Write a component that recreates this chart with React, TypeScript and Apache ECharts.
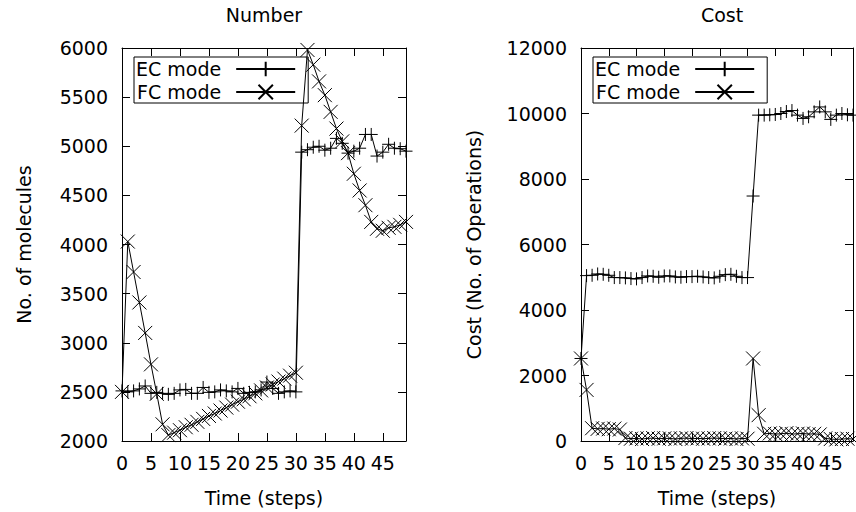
import React, { useEffect, useRef } from "react";
import * as echarts from "echarts";

const steps = [
  0, 1, 2, 3, 4, 5, 6, 7, 8, 9, 10, 11, 12, 13, 14, 15, 16, 17, 18, 19, 20, 21, 22, 23, 24,
  25, 26, 27, 28, 29, 30, 31, 32, 33, 34, 35, 36, 37, 38, 39, 40, 41, 42, 43, 44, 45, 46, 47, 48, 49,
];

const numberEC = [
  2510, 2500, 2510, 2530, 2560, 2485, 2495, 2485, 2475, 2485, 2520, 2525, 2485, 2485, 2545, 2495,
  2500, 2520, 2510, 2500, 2535, 2485, 2495, 2500, 2520, 2600, 2535, 2485, 2500, 2510, 2500,
  4940, 4965, 4990, 5000, 4960, 4980, 5080, 5030, 4930, 4950, 4980, 5120, 5120, 4900, 4940, 5020,
  4980, 4975, 4950,
];

const numberFC = [
  2500, 4030, 3720, 3410, 3100, 2780, 2480, 2170,
  2060, 2085, 2110, 2140, 2165, 2195, 2225, 2255, 2280, 2310, 2340, 2370, 2400, 2425, 2455, 2485,
  2515, 2545, 2575, 2605, 2635, 2665, 2695,
  5210, 5980, 5830, 5660, 5520, 5350, 5180, 5050, 4930, 4720, 4550, 4400, 4230, 4160, 4140, 4170,
  4180, 4200, 4230,
];

const costEC = [
  2520, 5050, 5060, 5100, 5090, 5060, 4990, 4990, 4980, 4960, 4950, 4990, 5040, 5030, 5000, 5040,
  5040, 5010, 5000, 5020, 5020, 5030, 5010, 4990, 4980, 5030, 5080, 5090, 5030, 4990, 4990,
  7480, 9950, 9950, 9960, 9970, 10000, 10060, 10090, 9950, 9850, 9900, 10050, 10200, 10050, 9820,
  9950, 10000, 9960, 9950,
];

const costFC = [
  2520, 1560, 390, 370, 380, 360, 380, 350,
  90, 70, 80, 60, 80, 90, 70, 80, 80, 60, 80, 90, 70, 80, 70, 80, 90, 80, 70, 80, 60, 80, 70,
  2520, 790, 220, 230, 210, 220, 240, 210, 220, 230, 210, 220, 200,
  80, 60, 50, 60, 70, 60,
];

const seriesNames = ["EC mode", "FC mode"];
const titles = ["Number", "Cost"];
const xName = "Time (steps)";
const yNames = ["No. of molecules", "Cost (No. of Operations)"];

const FONT = "DejaVu Sans";
const PLUS = "path://M0,5L10,5M5,0L5,10";
const CROSS = "path://M0,0L10,10M0,10L10,0";

function makeX(gridIndex: number, position: "bottom" | "top") {
  const primary = position === "bottom";
  return {
    type: "value",
    gridIndex,
    position,
    min: 0,
    max: 49,
    interval: 5,
    axisLine: { show: true, onZero: false, lineStyle: { color: "#000", width: 1 } },
    axisTick: { show: true, inside: true, length: 8, lineStyle: { color: "#000", width: 1 } },
    axisLabel: {
      show: primary,
      showMaxLabel: false,
      fontSize: 19,
      fontFamily: FONT,
      color: "#000",
      margin: 12,
      formatter: (v: number) => String(v),
    },
    splitLine: { show: false },
    name: primary ? xName : "",
    nameLocation: "middle",
    nameGap: 47,
    nameTextStyle: { fontSize: 19, fontFamily: FONT, color: "#000" },
  };
}

function makeY(
  gridIndex: number,
  position: "left" | "right",
  min: number,
  max: number,
  interval: number,
  name: string,
  gap: number
) {
  const primary = position === "left";
  return {
    type: "value",
    gridIndex,
    position,
    min,
    max,
    interval,
    axisLine: { show: true, onZero: false, lineStyle: { color: "#000", width: 1 } },
    axisTick: { show: true, inside: true, length: 8, lineStyle: { color: "#000", width: 1 } },
    axisLabel: {
      show: primary,
      fontSize: 19,
      fontFamily: FONT,
      color: "#000",
      margin: 14,
      formatter: (v: number) => String(v),
    },
    splitLine: { show: false },
    name: primary ? name : "",
    nameLocation: "middle",
    nameGap: gap,
    nameTextStyle: { fontSize: 19, fontFamily: FONT, color: "#000" },
  };
}

function makeSeries(name: string, xi: number, yi: number, values: number[], symbol: string, size: number) {
  return {
    type: "line",
    name,
    xAxisIndex: xi,
    yAxisIndex: yi,
    data: steps.map((t, i) => [t, values[i]]),
    symbol,
    symbolSize: size,
    showSymbol: true,
    lineStyle: { color: "#000", width: 1 },
    itemStyle: { color: "#000", borderColor: "#000", borderWidth: 1 },
    emphasis: { disabled: true },
    clip: false,
  };
}

function makeLegend(left: number) {
  return {
    left,
    top: 57,
    orient: "vertical",
    align: "right",
    itemWidth: 59,
    itemHeight: 18,
    itemGap: 3,
    padding: [2, 12, 1, 2],
    borderColor: "#000",
    borderWidth: 1,
    borderRadius: 0,
    backgroundColor: "transparent",
    selectedMode: false,
    textStyle: {
      fontSize: 19,
      fontFamily: FONT,
      color: "#000",
      lineHeight: 20,
      padding: [0, 10, 0, 0],
    },
    data: seriesNames,
  };
}

export default function App() {
  const ref = useRef<HTMLDivElement>(null);
  useEffect(() => {
    if (!ref.current) return;
    const chart = echarts.init(ref.current, undefined, { renderer: "svg" });
    chart.setOption({
      animation: false,
      backgroundColor: "#fff",
      grid: [
        { left: 122, top: 48, width: 284, height: 393 },
        { left: 581, top: 48, width: 272, height: 393 },
      ],
      xAxis: [makeX(0, "bottom"), makeX(0, "top"), makeX(1, "bottom"), makeX(1, "top")],
      yAxis: [
        makeY(0, "left", 2000, 6000, 500, yNames[0], 89),
        makeY(0, "right", 2000, 6000, 500, "", 0),
        makeY(1, "left", 0, 12000, 2000, yNames[1], 98),
        makeY(1, "right", 0, 12000, 2000, "", 0),
      ],
      legend: [makeLegend(134), makeLegend(593)],
      graphic: [
        {
          type: "text",
          x: 264,
          y: 15,
          style: { text: titles[0], align: "center", verticalAlign: "middle", fontSize: 19, fontFamily: FONT, fill: "#000" },
        },
        {
          type: "text",
          x: 722,
          y: 15,
          style: { text: titles[1], align: "center", verticalAlign: "middle", fontSize: 19, fontFamily: FONT, fill: "#000" },
        },
      ],
      series: [
        makeSeries(seriesNames[0], 0, 0, numberEC, PLUS, 13),
        makeSeries(seriesNames[1], 0, 0, numberFC, CROSS, 14),
        makeSeries(seriesNames[0], 2, 2, costEC, PLUS, 13),
        makeSeries(seriesNames[1], 2, 2, costFC, CROSS, 14),
      ],
    });
    return () => chart.dispose();
  }, []);
  return (
    <div
      ref={ref}
      style={{ position: "absolute", left: 0, top: 0, width: 856, height: 512 }}
    />
  );
}
